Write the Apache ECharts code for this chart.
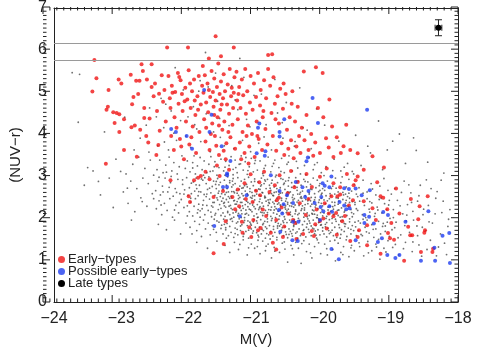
<!DOCTYPE html>
<html><head><meta charset="utf-8">
<script src="https://cdn.jsdelivr.net/npm/echarts@6/dist/echarts.min.js"></script>
<style>html,body{margin:0;padding:0;background:#fff}#c,#t{width:485px;height:356px;position:absolute;left:0;top:0}#t{pointer-events:none}</style>
</head><body><div id="c"></div><div id="t"></div>
<script>
const xTicks = [-24,-23,-22,-21,-20,-19,-18];
const yTicks = [0,1,2,3,4,5,6,7];
const refLines = [6.15, 5.76];
const errPoint = [[-18.29, 6.53, 0.05, 0.19]];
const legendNames = ['Early\u2212types','Possible early\u2212types','Late types'];

const earlyTypes = [
[-23.40,5.76],[-23.37,5.33],[-23.43,5.01],[-23.23,3.29],[-23.19,5.05],[-23.22,4.58],[-23.12,4.52],[-23.07,4.50],[-23.20,4.65],[-23.03,4.47],[-23.04,5.30],[-23.00,5.20],[-23.10,4.26],[-23.03,4.05],[-22.96,4.35],[-22.96,3.62],[-22.84,4.71],[-22.85,4.16],[-22.80,4.20],[-22.86,5.41],[-22.82,4.88],
[-22.78,5.27],[-22.73,5.27],[-22.70,5.66],[-22.68,5.50],[-22.75,4.95],[-22.66,4.62],[-22.72,4.10],[-22.63,3.95],[-22.60,3.80],[-22.77,3.46],[-22.58,4.37],[-22.55,5.12],[-22.52,4.90],[-22.50,5.20],[-22.47,4.55],[-22.45,3.74],[-22.43,4.08],[-22.40,5.40],[-22.38,4.77],[-22.36,5.05],[-22.34,4.30],[-22.55,5.66],[-22.62,5.30],[-22.48,3.50],[-22.66,4.38],[-22.44,4.96],
[-22.32,6.06],[-22.01,6.06],[-21.60,6.33],[-21.33,6.06],[-20.82,5.88],[-20.76,5.90],
[-22.30,5.38],[-22.28,4.85],[-22.27,4.62],[-22.25,5.15],[-22.22,3.62],[-22.21,4.40],[-22.20,5.00],[-22.18,4.15],[-22.16,5.45],[-22.15,4.72],[-22.13,3.88],[-22.12,5.28],[-22.10,4.95],[-22.09,4.55],[-22.07,3.40],[-22.05,5.10],[-22.04,4.30],[-22.02,4.82],[-22.00,5.52],[-21.99,3.75],[-21.97,4.62],[-21.95,5.02],[-21.94,4.18],[-21.92,5.30],[-21.90,4.45],[-21.89,3.55],[-21.87,4.90],[-21.85,5.38],[-21.84,4.05],[-21.82,4.70],[-21.80,5.15],[-22.24,4.98],[-22.14,5.36],[-22.06,4.78],[-21.98,5.20],[-21.91,4.80],[-21.86,4.58],[-22.26,3.95],[-22.11,3.70],[-21.96,3.92],
[-21.79,5.62],[-21.78,4.98],[-21.77,4.35],[-21.76,5.40],[-21.75,3.82],[-21.74,4.75],[-21.72,5.20],[-21.71,4.52],[-21.70,5.05],[-21.69,3.62],[-21.68,4.88],[-21.66,5.50],[-21.65,4.25],[-21.64,5.00],[-21.63,4.65],[-21.62,5.32],[-21.61,3.95],[-21.60,4.80],[-21.58,5.12],[-21.57,4.40],[-21.56,5.68],[-21.55,3.50],[-21.54,4.95],[-21.53,4.58],[-21.52,5.25],[-21.50,4.10],[-21.49,4.85],[-21.48,5.42],[-21.47,4.30],[-21.46,5.02],[-21.44,3.78],[-21.43,4.70],[-21.42,5.18],[-21.40,4.48],[-21.39,5.55],[-21.38,3.92],[-21.37,4.90],[-21.36,5.10],[-21.35,4.22],[-21.34,4.62],[-21.32,5.35],[-21.31,3.65],[-21.74,4.15],[-21.67,4.00],[-21.59,3.72],[-21.51,4.70],[-21.45,3.40],[-21.41,4.05],[-21.33,4.98],[-21.70,5.80],[-21.52,5.85],[-21.62,4.45],[-21.55,4.20],[-21.48,3.60],
[-21.29,5.48],[-21.28,4.80],[-21.27,4.35],[-21.25,5.12],[-21.24,3.80],[-21.23,4.62],[-21.21,5.30],[-21.20,4.05],[-21.19,4.92],[-21.17,3.55],[-21.16,5.55],[-21.15,4.48],[-21.13,5.02],[-21.12,4.20],[-21.10,3.70],[-21.09,4.75],[-21.08,5.38],[-21.06,4.00],[-21.05,4.58],[-21.03,5.20],[-21.02,3.45],[-21.00,4.88],[-20.99,4.30],[-20.97,5.45],[-20.96,3.88],[-20.94,4.68],[-20.93,5.05],[-20.91,3.62],[-20.90,4.40],[-20.88,5.28],[-20.86,4.12],[-20.85,4.85],[-20.83,3.75],[-20.82,5.55],[-21.22,3.40],[-21.11,3.30],[-20.98,3.95],[-21.26,4.95],[-21.14,3.95],[-20.89,4.55],
[-20.79,5.15],[-20.77,4.50],[-20.75,3.95],[-20.74,5.35],[-20.72,4.72],[-20.70,3.60],[-20.68,4.90],[-20.66,4.25],[-20.64,5.08],[-20.62,3.78],[-20.60,4.60],[-20.58,3.50],[-20.56,4.95],[-20.54,4.10],[-20.52,3.65],[-20.50,4.40],[-20.48,3.85],[-20.46,5.02],[-20.44,3.42],[-20.42,4.30],[-20.40,3.70],[-20.38,4.65],[-20.36,3.95],[-20.34,3.55],[-20.32,4.15],[-20.71,4.35],[-20.59,5.20],[-20.47,4.72],
[-20.29,5.49],[-20.11,5.59],[-20.01,5.45],[-19.91,4.82],[-19.87,4.18],[-19.66,4.22],[-20.00,4.40],[-19.27,3.47],[-19.49,3.54],[-19.70,3.71],[-20.28,3.85],[-20.25,4.45],[-20.22,3.62],[-20.18,4.00],[-20.15,3.48],[-20.12,3.80],[-20.08,4.62],[-20.05,3.55],[-19.96,3.90],[-19.92,3.68],[-19.85,3.45],[-19.80,3.92],[-19.74,3.55],[-19.60,3.62],
[-21.63,1.16],[-21.48,1.38],[-21.20,1.65],[-21.07,1.55],[-21.10,1.78],[-22.00,2.52],[-21.98,2.38],[-22.27,2.90],[-21.92,2.90],[-21.86,2.96],[-21.82,3.00],[-21.69,2.92],[-21.54,3.00],[-21.49,2.64],[-21.63,2.50],[-21.31,2.21],[-21.25,2.28],[-21.17,2.83],[-21.27,2.68],[-21.05,2.38],[-21.21,1.91],[-21.04,1.95],[-21.75,3.10],[-21.40,3.15],[-21.58,3.25],[-21.08,3.04],[-20.94,2.54],[-20.65,3.02],[-20.53,2.59],[-20.43,2.73],[-20.38,2.86],[-20.17,2.74],[-20.05,2.98],[-19.85,2.83],[-19.75,2.73],[-19.55,2.78],[-19.52,2.90],[-19.49,2.99],[-19.56,2.42],[-19.88,2.52],[-19.79,2.52],[-19.75,2.56],[-19.92,2.11],[-19.85,2.04],
[-20.97,1.71],[-20.93,1.76],[-20.75,1.41],[-20.70,1.95],[-20.69,2.42],[-20.66,2.48],[-20.45,1.95],[-20.42,1.88],[-20.14,1.57],[-20.17,1.69],[-20.26,2.07],[-20.05,1.93],[-20.00,1.99],[-19.81,2.12],[-19.68,2.05],[-19.49,1.55],[-19.47,1.71],[-19.35,1.83],[-19.27,2.23],[-19.05,2.21],[-18.99,1.88],[-18.87,2.11],[-18.74,1.79],[-18.68,1.59],[-18.57,2.28],[-18.59,1.97],[-18.55,1.19],[-18.38,1.19],[-18.37,1.27],[-18.80,0.98],[-19.04,1.64],[-19.01,1.52],[-18.49,1.71],[-18.71,1.59],
[-20.90,2.20],[-20.85,2.05],[-20.80,2.62],[-20.62,2.25],[-20.58,1.80],[-20.52,2.10],[-20.35,2.35],[-20.30,1.62],[-20.22,2.45],[-20.10,2.20],[-20.12,1.85],[-19.98,2.35],[-19.95,1.75],[-19.72,1.92],[-19.62,2.30],[-19.40,2.40],[-19.22,1.95],[-19.15,2.52],[-20.95,2.85],[-20.88,3.10],[-20.72,2.78],[-20.48,3.12],[-20.25,3.05],[-19.95,3.18],[-19.65,3.05],[-21.15,2.45],[-21.00,2.65],[-20.78,1.65],[-20.60,1.55],[-20.40,1.50],[-19.80,1.60],[-19.60,1.45],[-19.35,1.35],[-21.35,2.50],[-21.45,1.92],[-20.70,1.25],[-19.15,1.15],[-18.95,1.48],[-18.50,1.65],[-18.45,2.52],[-18.70,2.45],[-18.92,2.70],[-19.20,2.85],[-19.40,3.15],[-19.10,3.20],[-19.11,2.48]
];

const possibleEarly = [
[-21.77,5.05],[-21.66,4.46],[-21.69,4.05],[-22.26,4.12],[-22.19,4.05],[-22.03,3.95],[-21.95,3.65],[-21.51,3.71],[-21.38,3.36],[-21.43,3.06],[-20.16,4.86],[-19.35,4.58],[-20.08,4.26],[-20.58,4.35],[-20.95,4.25],[-20.97,4.15],[-20.86,3.59],[-20.87,3.48],[-20.65,3.94],[-20.65,4.05],[-20.23,3.44],[-20.25,3.35],[-20.99,3.54],[-20.78,3.02],[-20.41,2.86],[-20.31,2.73],[-20.01,2.83],[-19.98,2.77],[-19.88,2.99],[-19.91,2.73],[-19.52,2.70],[-19.43,2.54],[-19.31,2.66],[-20.03,2.50],[-20.65,2.64],[-20.54,2.54],[-20.27,2.50],[-20.22,2.64],[-20.13,2.36],[-20.59,2.33],[-20.45,2.36],[-20.37,1.91],[-20.45,1.91],[-20.66,2.19],[-20.61,2.11],[-20.04,2.26],[-20.00,2.16],[-19.91,2.28],[-19.87,2.15],[-19.69,2.30],[-19.66,2.21],[-19.61,2.23],[-19.69,2.71],[-19.62,2.69],[-19.39,1.88],[-19.32,2.03],[-19.25,1.87],[-19.39,2.07],[-19.52,1.47],[-19.19,1.43],[-19.13,1.52],[-19.11,2.14],[-19.04,2.07],[-18.78,1.91],[-18.44,2.16],[-18.23,1.58],[-18.13,1.64],[-18.35,1.29],[-18.34,0.98],[-18.12,0.93],[-18.55,0.98],[-18.93,1.05],[-18.87,1.12],[-19.05,1.12],[-19.77,1.02],[-19.88,1.26],[-20.46,1.47],[-20.38,1.45],[-20.64,1.67],[-20.05,1.95],[-19.76,2.38],[-21.62,1.81],[-21.43,3.02],[-21.49,2.74],[-21.43,2.74],[-21.24,2.04],[-21.14,2.54]
];

const lateTypes = [
[-23.55,2.78],[-23.42,3.12],[-23.31,2.55],[-23.18,2.95],[-23.08,3.40],[-23.62,5.42],[-23.25,4.05],[-23.12,2.25],[-23.73,5.46],[-23.64,4.28],[-23.50,3.20],
[-22.97,2.62],[-22.93,3.05],[-22.90,2.35],[-22.86,2.88],[-22.83,3.28],[-22.80,2.15],[-22.77,2.70],[-22.74,3.45],[-22.71,2.48],[-22.68,2.95],[-22.65,3.18],[-22.62,2.28],[-22.60,2.82],[-22.57,3.38],[-22.54,2.58],[-22.52,3.02],[-22.95,4.40],[-22.72,3.90],[-22.58,4.62],[-22.85,1.95],
[-22.45,1.85],[-22.33,1.72],[-22.21,1.95],[-22.12,1.62],[-22.04,1.88],
[-22.48,2.22],[-22.44,2.41],[-22.40,2.08],[-22.36,2.35],[-22.32,2.18],[-22.28,2.46],[-22.24,2.02],[-22.19,2.30],[-22.15,2.12],[-22.11,2.44],[-22.07,2.25],[-22.02,2.05],
[-22.49,2.65],[-22.46,2.88],[-22.42,2.55],[-22.39,2.76],[-22.35,2.95],[-22.31,2.62],[-22.27,2.84],[-22.23,2.52],[-22.20,2.70],[-22.16,2.92],[-22.13,2.58],[-22.09,2.80],[-22.06,2.67],[-22.03,2.96],[-22.01,2.54],
[-22.47,3.15],[-22.43,3.38],[-22.38,3.08],[-22.34,3.26],[-22.29,3.45],[-22.25,3.12],[-22.22,3.32],[-22.17,3.05],[-22.14,3.22],[-22.10,3.48],[-22.05,3.18],[-22.02,3.36],
[-22.46,3.72],[-22.37,4.15],[-22.30,3.62],[-22.26,4.55],[-22.18,3.85],[-22.12,4.32],[-22.08,5.05],[-22.04,3.95],[-22.41,4.85],[-22.20,5.58],
[-21.88,1.42],[-21.72,1.28],[-21.58,1.45],
[-21.98,1.78],[-21.95,1.62],[-21.91,1.92],[-21.88,1.70],[-21.84,1.85],[-21.81,1.56],[-21.78,1.95],[-21.75,1.74],[-21.71,1.88],[-21.68,1.60],[-21.65,1.82],[-21.62,1.97],[-21.59,1.66],[-21.55,1.90],[-21.52,1.75],
[-21.99,2.15],[-21.97,2.38],[-21.94,2.05],[-21.92,2.28],[-21.90,2.46],[-21.87,2.12],[-21.85,2.33],[-21.83,2.02],[-21.80,2.22],[-21.78,2.42],[-21.76,2.08],[-21.73,2.30],[-21.71,2.18],[-21.69,2.45],[-21.66,2.03],[-21.64,2.26],[-21.62,2.37],[-21.60,2.11],[-21.58,2.48],[-21.56,2.20],[-21.54,2.32],[-21.52,2.06],[-21.51,2.40],[-21.86,2.20],[-21.67,2.14],
[-21.99,2.72],[-21.96,2.58],[-21.93,2.86],[-21.91,2.64],[-21.89,2.95],[-21.86,2.53],[-21.84,2.78],[-21.82,2.62],[-21.79,2.90],[-21.77,2.56],[-21.74,2.82],[-21.72,2.68],[-21.70,2.98],[-21.67,2.60],[-21.65,2.75],[-21.63,2.88],[-21.61,2.54],[-21.59,2.70],[-21.57,2.94],[-21.55,2.64],[-21.53,2.85],[-21.51,2.58],[-21.88,2.70],[-21.76,2.96],[-21.60,2.80],
[-21.98,3.10],[-21.94,3.32],[-21.90,3.05],[-21.87,3.24],[-21.83,3.44],[-21.80,3.15],[-21.77,3.36],[-21.73,3.08],[-21.70,3.28],[-21.67,3.46],[-21.64,3.12],[-21.61,3.34],[-21.58,3.02],[-21.55,3.20],[-21.52,3.40],[-21.92,3.48],[-21.78,3.02],[-21.62,3.22],
[-21.97,3.68],[-21.88,4.12],[-21.82,3.82],[-21.74,4.48],[-21.68,3.58],[-21.63,4.05],[-21.57,4.78],[-21.53,3.92],[-21.93,4.65],[-21.71,5.12],[-21.60,5.45],[-21.85,5.02],[-21.75,5.94],[-21.24,5.80],
[-21.46,1.35],[-21.39,1.18],[-21.32,1.42],[-21.26,1.25],[-21.19,1.48],[-21.13,1.12],[-21.07,1.38],[-21.02,1.28],
[-21.49,1.62],[-21.47,1.85],[-21.45,1.72],[-21.43,1.95],[-21.41,1.58],[-21.39,1.80],[-21.37,1.66],[-21.35,1.92],[-21.33,1.54],[-21.31,1.76],[-21.29,1.88],[-21.27,1.60],[-21.25,1.98],[-21.23,1.70],[-21.21,1.84],[-21.19,1.56],[-21.17,1.94],[-21.15,1.68],[-21.13,1.82],[-21.11,1.52],[-21.09,1.90],[-21.07,1.74],[-21.05,1.64],[-21.03,1.96],[-21.01,1.78],[-21.44,1.52],[-21.36,1.99],[-21.28,1.73],[-21.18,1.62],[-21.08,1.86],
[-21.49,2.12],[-21.48,2.35],[-21.46,2.04],[-21.45,2.26],[-21.44,2.44],[-21.42,2.16],[-21.41,2.38],[-21.39,2.08],[-21.38,2.30],[-21.36,2.48],[-21.35,2.20],[-21.33,2.02],[-21.32,2.42],[-21.30,2.14],[-21.29,2.33],[-21.27,2.06],[-21.26,2.46],[-21.24,2.24],[-21.23,2.37],[-21.21,2.10],[-21.20,2.29],[-21.18,2.45],[-21.17,2.01],[-21.15,2.19],[-21.14,2.40],[-21.12,2.27],[-21.11,2.07],[-21.09,2.34],[-21.08,2.49],[-21.06,2.15],[-21.05,2.31],[-21.03,2.05],[-21.02,2.43],[-21.01,2.22],[-21.40,2.28],[-21.34,2.12],[-21.22,2.18],[-21.16,2.32],[-21.10,2.21],[-21.04,2.38],
[-21.49,2.68],[-21.47,2.90],[-21.46,2.56],[-21.44,2.78],[-21.42,2.98],[-21.41,2.62],[-21.39,2.84],[-21.37,2.52],[-21.36,2.74],[-21.34,2.94],[-21.32,2.60],[-21.31,2.82],[-21.29,2.66],[-21.27,2.96],[-21.26,2.54],[-21.24,2.76],[-21.22,2.88],[-21.21,2.58],[-21.19,2.72],[-21.17,2.92],[-21.16,2.64],[-21.14,2.80],[-21.12,2.55],[-21.11,2.97],[-21.09,2.70],[-21.07,2.86],[-21.06,2.61],[-21.04,2.77],[-21.02,2.93],[-21.01,2.66],[-21.43,2.70],[-21.35,2.88],[-21.25,2.68],[-21.13,2.74],[-21.05,2.53],
[-21.48,3.12],[-21.45,3.35],[-21.42,3.05],[-21.40,3.25],[-21.37,3.46],[-21.34,3.16],[-21.31,3.38],[-21.28,3.08],[-21.25,3.28],[-21.22,3.48],[-21.19,3.14],[-21.16,3.34],[-21.13,3.04],[-21.10,3.22],[-21.07,3.42],[-21.04,3.10],[-21.02,3.30],[-21.46,3.02],[-21.30,3.20],[-21.15,3.44],
[-21.47,3.72],[-21.40,4.20],[-21.33,3.65],[-21.27,4.58],[-21.20,3.85],[-21.14,4.35],[-21.08,3.58],[-21.03,4.92],[-21.36,5.15],[-21.18,5.35],
[-20.98,1.32],[-20.94,1.15],[-20.90,1.45],[-20.86,1.22],[-20.82,1.38],[-20.77,1.05],[-20.73,1.30],[-20.69,1.48],[-20.65,1.18],[-20.61,1.40],[-20.57,1.26],[-20.53,0.95],
[-20.99,1.65],[-20.98,1.88],[-20.96,1.55],[-20.95,1.78],[-20.93,1.96],[-20.92,1.62],[-20.90,1.84],[-20.89,1.70],[-20.87,1.92],[-20.86,1.52],[-20.84,1.75],[-20.83,1.98],[-20.81,1.60],[-20.80,1.82],[-20.78,1.68],[-20.77,1.94],[-20.75,1.57],[-20.74,1.80],[-20.72,1.66],[-20.71,1.90],[-20.69,1.54],[-20.68,1.76],[-20.66,1.97],[-20.65,1.63],[-20.63,1.85],[-20.62,1.71],[-20.60,1.93],[-20.59,1.58],[-20.57,1.79],[-20.56,1.67],[-20.54,1.89],[-20.53,1.53],[-20.51,1.74],[-20.50,1.95],[-20.91,1.73],[-20.79,1.50],[-20.67,1.87],[-20.55,1.61],
[-20.99,2.10],[-20.98,2.32],[-20.97,2.02],[-20.95,2.24],[-20.94,2.45],[-20.93,2.14],[-20.91,2.36],[-20.90,2.06],[-20.89,2.28],[-20.87,2.48],[-20.86,2.18],[-20.85,2.40],[-20.83,2.08],[-20.82,2.30],[-20.81,2.20],[-20.79,2.44],[-20.78,2.04],[-20.77,2.26],[-20.75,2.38],[-20.74,2.12],[-20.73,2.34],[-20.71,2.01],[-20.70,2.22],[-20.69,2.47],[-20.67,2.16],[-20.66,2.36],[-20.65,2.05],[-20.63,2.28],[-20.62,2.42],[-20.61,2.13],[-20.59,2.32],[-20.58,2.03],[-20.57,2.25],[-20.55,2.46],[-20.54,2.17],[-20.53,2.37],[-20.51,2.09],[-20.50,2.29],[-20.96,2.20],[-20.88,2.12],[-20.80,2.35],[-20.72,2.27],[-20.64,2.19],[-20.56,2.40],[-20.52,2.21],
[-20.99,2.64],[-20.97,2.86],[-20.95,2.55],[-20.93,2.76],[-20.92,2.95],[-20.90,2.60],[-20.88,2.82],[-20.87,2.52],[-20.85,2.70],[-20.83,2.92],[-20.81,2.58],[-20.80,2.78],[-20.78,2.66],[-20.76,2.90],[-20.75,2.54],[-20.73,2.74],[-20.71,2.98],[-20.70,2.62],[-20.68,2.84],[-20.66,2.56],[-20.64,2.72],[-20.63,2.94],[-20.61,2.60],[-20.59,2.80],[-20.57,2.68],[-20.56,2.88],[-20.54,2.53],[-20.52,2.76],[-20.51,2.96],[-20.94,2.68],[-20.86,2.88],[-20.77,2.58],[-20.69,2.70],[-20.60,2.92],[-20.53,2.62],
[-20.98,3.14],[-20.94,3.36],[-20.90,3.06],[-20.86,3.25],[-20.82,3.45],[-20.78,3.10],[-20.74,3.30],[-20.70,3.02],[-20.66,3.20],[-20.62,3.42],[-20.58,3.08],[-20.54,3.28],[-20.51,3.48],[-20.88,3.18],[-20.72,3.38],
[-20.96,3.78],[-20.85,4.22],[-20.77,3.62],[-20.68,4.50],[-20.60,3.90],[-20.55,4.75],[-20.92,4.95],[-20.72,5.30],
[-20.48,1.35],[-20.44,1.12],[-20.41,1.42],[-20.37,1.28],[-20.33,0.92],[-20.29,1.46],[-20.25,1.20],[-20.21,1.38],[-20.17,1.05],[-20.13,1.32],[-20.09,1.48],[-20.04,1.15],
[-20.49,1.68],[-20.48,1.90],[-20.46,1.57],[-20.44,1.80],[-20.43,1.96],[-20.41,1.64],[-20.40,1.86],[-20.38,1.52],[-20.36,1.74],[-20.35,1.94],[-20.33,1.62],[-20.31,1.84],[-20.30,1.70],[-20.28,1.92],[-20.26,1.55],[-20.25,1.78],[-20.23,1.98],[-20.21,1.66],[-20.20,1.88],[-20.18,1.58],[-20.16,1.76],[-20.15,1.95],[-20.13,1.63],[-20.11,1.82],[-20.10,1.52],[-20.08,1.72],[-20.06,1.90],[-20.05,1.60],[-20.03,1.84],[-20.01,1.69],[-20.45,1.72],[-20.34,1.58],[-20.24,1.86],[-20.14,1.74],[-20.07,1.98],
[-20.49,2.14],[-20.48,2.36],[-20.46,2.04],[-20.44,2.26],[-20.43,2.46],[-20.41,2.16],[-20.39,2.38],[-20.38,2.08],[-20.36,2.30],[-20.34,2.48],[-20.33,2.18],[-20.31,2.40],[-20.29,2.02],[-20.28,2.24],[-20.26,2.44],[-20.24,2.12],[-20.23,2.34],[-20.21,2.06],[-20.19,2.28],[-20.18,2.49],[-20.16,2.19],[-20.14,2.39],[-20.13,2.09],[-20.11,2.31],[-20.09,2.01],[-20.08,2.22],[-20.06,2.43],[-20.04,2.13],[-20.03,2.35],[-20.01,2.05],[-20.47,2.28],[-20.42,2.10],[-20.37,2.42],[-20.32,2.22],[-20.27,2.32],[-20.22,2.45],[-20.17,2.11],[-20.12,2.26],[-20.07,2.37],[-20.02,2.20],
[-20.49,2.62],[-20.47,2.84],[-20.45,2.55],[-20.43,2.76],[-20.41,2.96],[-20.39,2.66],[-20.37,2.88],[-20.35,2.57],[-20.33,2.78],[-20.31,2.64],[-20.29,2.92],[-20.27,2.53],[-20.25,2.74],[-20.23,2.86],[-20.21,2.60],[-20.19,2.80],[-20.17,2.68],[-20.15,2.95],[-20.13,2.58],[-20.11,2.72],[-20.09,2.90],[-20.07,2.63],[-20.05,2.82],[-20.03,2.56],[-20.01,2.70],
[-20.46,3.12],[-20.40,3.35],[-20.34,3.05],[-20.28,3.25],[-20.21,3.44],[-20.15,3.15],[-20.09,3.32],[-20.03,3.08],
[-20.42,3.82],[-20.30,4.15],[-20.18,3.65],[-20.10,4.60],[-20.35,5.10],
[-19.98,1.38],[-19.94,1.12],[-19.90,1.45],[-19.86,1.25],[-19.82,0.98],[-19.78,1.40],[-19.74,1.18],[-19.70,1.32],[-19.66,1.48],[-19.62,1.08],[-19.58,1.35],[-19.54,1.22],
[-19.99,1.62],[-19.97,1.85],[-19.95,1.55],[-19.93,1.76],[-19.91,1.96],[-19.89,1.66],[-19.87,1.88],[-19.85,1.58],[-19.83,1.78],[-19.81,1.92],[-19.79,1.64],[-19.77,1.84],[-19.75,1.52],[-19.73,1.72],[-19.71,1.94],[-19.69,1.68],[-19.67,1.86],[-19.65,1.56],[-19.63,1.76],[-19.61,1.98],[-19.59,1.62],[-19.57,1.82],[-19.55,1.70],[-19.53,1.90],[-19.51,1.58],[-19.92,1.70],[-19.80,1.54],[-19.68,1.80],
[-19.99,2.12],[-19.97,2.34],[-19.95,2.04],[-19.93,2.26],[-19.91,2.46],[-19.89,2.16],[-19.87,2.38],[-19.85,2.08],[-19.83,2.30],[-19.81,2.48],[-19.79,2.18],[-19.77,2.40],[-19.75,2.02],[-19.73,2.24],[-19.71,2.44],[-19.69,2.14],[-19.67,2.36],[-19.65,2.06],[-19.63,2.28],[-19.61,2.47],[-19.59,2.20],[-19.57,2.39],[-19.55,2.10],[-19.53,2.32],[-19.51,2.22],[-19.90,2.28],[-19.78,2.06],[-19.66,2.42],
[-19.98,2.66],[-19.94,2.88],[-19.90,2.58],[-19.86,2.76],[-19.82,2.95],[-19.78,2.62],[-19.74,2.84],[-19.70,2.55],[-19.66,2.74],[-19.62,2.92],[-19.58,2.64],[-19.54,2.80],[-19.51,2.57],[-19.88,2.70],[-19.72,2.98],
[-19.96,3.22],[-19.84,3.40],[-19.74,3.12],[-19.64,3.30],[-19.55,3.05],
[-19.46,1.32],[-19.40,1.10],[-19.34,1.44],[-19.28,1.22],[-19.22,1.38],[-19.16,1.02],[-19.10,1.28],[-19.04,1.46],
[-19.48,1.70],[-19.45,1.88],[-19.42,1.58],[-19.38,1.78],[-19.35,1.95],[-19.32,1.64],[-19.28,1.84],[-19.25,1.54],[-19.22,1.74],[-19.18,1.92],[-19.15,1.62],[-19.12,1.80],[-19.08,1.68],[-19.05,1.90],[-19.02,1.56],
[-19.49,2.18],[-19.46,2.40],[-19.42,2.08],[-19.39,2.30],[-19.35,2.46],[-19.31,2.14],[-19.28,2.36],[-19.24,2.04],[-19.20,2.26],[-19.17,2.44],[-19.13,2.12],[-19.09,2.34],[-19.06,2.20],[-19.02,2.42],
[-19.47,2.72],[-19.41,2.90],[-19.35,2.62],[-19.29,2.82],[-19.22,2.55],[-19.16,2.76],[-19.10,2.94],[-19.04,2.66],
[-19.44,3.25],[-19.30,3.55],[-19.12,3.15],
[-18.97,1.30],[-18.88,1.12],[-18.78,1.42],[-18.68,1.20],[-18.58,1.36],
[-18.98,1.72],[-18.92,1.90],[-18.85,1.60],[-18.79,1.82],[-18.72,1.66],[-18.66,1.95],[-18.60,1.58],[-18.53,1.78],
[-18.96,2.20],[-18.90,2.42],[-18.82,2.10],[-18.75,2.32],[-18.67,2.16],[-18.60,2.40],[-18.52,2.08],
[-18.94,2.70],[-18.80,2.88],[-18.70,2.60],[-18.56,2.78],[-18.87,4.00],[-18.66,3.91],[-19.05,3.62],[-18.78,3.30],
[-18.46,1.25],[-18.32,1.10],[-18.20,1.40],[-18.48,1.70],[-18.38,1.88],[-18.26,1.62],[-18.15,1.80],
[-18.44,2.30],[-18.34,2.10],[-18.22,2.40],[-18.12,2.20],[-18.40,2.70],[-18.25,2.90],
[-21.57,2.43],[-21.21,2.71],[-20.84,1.63],[-20.38,2.57],[-19.93,2.19],[-21.02,2.87],[-20.61,1.77],[-20.17,2.33],[-19.74,1.61],[-21.38,1.97],
[-20.93,2.52],[-20.49,2.08],[-20.05,2.66],[-19.61,1.91],[-21.44,2.61],[-21.07,1.83],[-20.71,2.41],[-20.29,1.72],[-19.86,2.27],[-21.29,2.17],
[-21.66,2.29],[-21.13,2.58],[-20.76,1.99],[-20.33,2.51],[-19.97,1.79],[-21.51,1.83],[-21.19,2.23],[-20.87,2.91],[-20.44,1.83],[-20.12,2.49],
[-19.78,2.33],[-21.73,2.57],[-21.34,2.79],[-20.98,2.01],[-20.66,2.63],[-20.21,1.93],[-19.89,2.53],[-19.57,2.03],[-21.47,2.29],[-21.11,1.71],
[-20.81,2.37],[-20.47,2.73],[-20.09,2.07],[-19.71,2.61],[-21.61,2.07],[-21.24,2.49],[-20.89,1.87],[-20.56,2.21],[-20.19,2.69],[-19.82,1.97],
[-21.36,2.63],[-21.03,2.27],[-20.68,1.81],[-20.36,2.11],[-19.99,2.43],[-21.53,2.51],[-21.16,2.09],[-20.79,2.71],[-20.42,2.31],[-20.07,1.89],
[-19.68,2.17],[-21.42,2.13],[-21.09,2.63],[-20.73,2.19],[-20.39,1.67],[-20.02,2.59],[-19.64,2.51],[-21.27,1.91],[-20.95,2.39],[-20.58,2.83],
[-20.24,2.03],[-19.91,1.63],[-21.69,2.71],[-21.31,2.33],[-20.97,1.59],[-20.62,2.47],[-20.27,2.87],[-19.94,2.41],[-19.59,1.73],[-21.49,2.47],
[-21.17,2.77],[-20.83,2.13],[-20.51,1.61],[-20.14,2.17],[-19.81,2.71],[-21.58,1.93],[-21.22,2.01],[-20.91,2.61],[-20.53,2.33],[-20.18,1.81],
[-19.84,2.09],[-21.39,2.89],[-21.06,2.47],[-20.74,1.73],[-20.41,2.19],[-20.06,2.77],[-19.72,2.03],[-21.64,2.37],[-21.28,2.59],[-20.94,2.27],
[-20.57,1.97],[-20.23,2.41],[-19.87,1.71],[-19.53,2.37],[-21.45,1.77],[-21.12,2.37],[-20.77,2.83],[-20.45,2.43],[-20.11,1.59],[-19.77,2.19],
[-21.33,2.41],[-20.99,1.93],[-20.64,2.59],[-20.31,2.29],[-19.96,1.99],[-19.62,2.59],[-21.55,2.79],[-21.18,1.89],[-20.86,2.49],[-20.52,2.89],
[-20.16,2.09],[-19.83,2.57],[-21.41,2.51],[-21.04,1.69],[-20.69,2.09],[-20.34,2.61],[-20.01,1.77],[-19.66,2.29],[-21.26,2.11],[-20.92,2.79],
[-22.38,2.62],[-22.21,2.19],[-22.09,2.91],[-21.97,2.47],[-21.85,2.63],[-21.79,2.31],[-22.44,2.97],[-22.29,2.73],[-22.14,2.37],[-21.96,2.83],
[-21.83,2.17],[-22.33,3.09],[-22.18,2.61],[-22.02,2.29],[-21.89,2.79],[-21.74,2.51],[-22.52,2.46],[-22.41,2.31],[-22.26,2.99],[-22.07,2.57],
[-21.94,3.19],[-21.81,2.93],[-21.68,3.11],[-21.59,2.87],[-21.46,3.21],[-21.34,3.03],[-21.23,3.29],[-21.12,3.13],[-21.01,3.37],[-20.89,3.01],
[-20.76,3.23],[-20.63,3.11],[-20.52,3.33],[-20.38,3.19],[-20.26,3.03],[-20.13,3.27],[-19.99,3.01],[-19.86,3.13],[-19.69,3.21],[-19.57,3.11],
[-21.24,1.37],[-21.11,1.29],[-20.97,1.47],[-20.85,1.33],[-20.72,1.21],[-20.58,1.43],[-20.46,1.27],[-20.32,1.39],[-20.19,1.17],[-20.07,1.41],
[-19.95,1.27],[-19.83,1.47],[-19.71,1.13],[-19.59,1.29],[-19.47,1.41],[-19.33,1.17],[-19.21,1.31],[-19.07,1.19],[-18.93,1.37],[-18.81,1.27],
[-18.67,1.43],[-18.54,1.09],[-18.41,1.47],[-18.29,1.31],[-18.17,1.13],
[-19.44,1.61],[-19.37,2.01],[-19.26,1.73],[-19.19,2.19],[-19.11,1.87],[-19.03,2.31],[-18.94,1.77],[-18.86,2.29],[-18.77,1.93],[-18.69,2.37],
[-18.61,1.81],[-18.51,2.21],[-18.43,1.91],[-18.33,2.47],[-18.24,2.13],[-18.14,1.97],[-19.41,2.59],[-19.27,2.69],[-19.14,2.47],[-18.99,2.57],
[-18.84,2.61],[-18.73,2.79],[-18.58,2.53],[-18.47,2.91],[-18.31,2.63],
[-19.48,1.93],[-19.36,1.67],[-19.23,2.11],[-19.08,1.81],[-18.96,2.01],[-19.31,2.39],[-19.18,1.49],[-19.01,1.99],[-18.89,1.53],[-18.76,2.07],
[-22.63,4.21],[-22.34,4.71],[-22.01,4.41],[-21.83,5.27],[-21.54,4.37],[-21.31,4.81],[-21.09,4.17],[-20.88,3.93],[-20.61,4.27],[-20.43,3.71],
[-20.24,4.09],[-19.98,4.21],[-19.77,3.83],[-19.52,3.97],[-19.34,3.71],[-19.18,4.31],[-18.97,3.83],[-18.62,3.61],[-18.45,3.33],[-18.21,3.07],
[-22.81,3.62],[-23.01,3.11],[-23.34,2.87],[-22.91,2.71],[-22.69,2.39],[-22.59,3.57],[-22.36,3.81],[-22.22,4.02],[-22.48,4.41],[-21.91,4.22],
[-21.47,2.37],[-21.37,2.23],[-21.28,2.39],[-21.19,2.53],[-21.08,2.19],[-20.99,2.57],[-20.91,2.13],[-20.82,2.43],[-20.73,2.61],[-20.64,2.31],
[-20.55,2.13],[-20.46,2.49],[-20.37,1.99],[-20.28,2.19],[-20.19,2.41],[-20.10,2.01],[-20.01,2.29],[-19.92,2.11],[-19.83,2.37],[-19.74,1.93],
[-21.52,2.23],[-21.43,1.87],[-21.33,2.63],[-21.23,1.81],[-21.14,2.11],[-21.04,1.91],[-20.96,2.69],[-20.86,1.79],[-20.78,2.19],[-20.68,2.33],
[-20.59,1.89],[-20.51,2.61],[-20.41,1.91],[-20.32,2.47],[-20.22,1.73],[-20.13,2.43],[-20.04,1.83],[-19.96,2.53],[-19.87,1.99],[-19.78,2.47],
[-19.69,1.87],[-19.61,2.37],[-19.52,1.79],[-21.63,1.73],[-21.56,2.59],[-21.48,1.97],[-21.39,2.47],[-21.31,1.63],[-21.21,2.37],[-21.12,1.93],
[-21.02,2.53],[-20.92,2.23],[-20.83,1.91],[-20.74,2.53],[-20.65,1.81],[-20.56,2.29],[-20.47,1.63],[-20.39,2.73],[-20.29,2.11],[-20.21,2.57],
[-20.12,1.69],[-20.03,2.47],[-19.95,1.89],[-19.85,2.21],[-19.76,1.77],[-19.67,2.57],[-19.58,2.13],[-19.49,2.51],[-19.41,1.97],[-19.32,2.21]
];

const FONT = 'Liberation Sans';
const INK = '#222';
const GRID = {left: 43, right: 27, top: 7, bottom: 54};
const minus = v => (v < 0 ? '\u2212' : '') + Math.abs(v);
const xMin = xTicks[0], xMax = xTicks[xTicks.length - 1];
const yMin = yTicks[0], yMax = yTicks[yTicks.length - 1];

function axisBase() {
  return {
    type: 'value', interval: 1,
    axisLine: {show: true, onZero: false, lineStyle: {color: INK, width: 1}},
    axisTick: {show: false}, minorTick: {show: false},
    splitLine: {show: false}, minorSplitLine: {show: false}
  };
}

// main chart: data, labels, legend, reference lines, error-bar point
const chart = echarts.init(document.getElementById('c'));
chart.setOption({
  animation: false,
  backgroundColor: '#fff',
  grid: GRID,
  legend: {
    orient: 'vertical', left: 53, top: 248, itemWidth: 7, itemHeight: 7, itemGap: -1,
    data: [
      {name: legendNames[0], icon: 'circle', itemStyle: {color: '#f01515'}},
      {name: legendNames[1], icon: 'circle', itemStyle: {color: '#1f3df0'}},
      {name: legendNames[2], icon: 'circle', itemStyle: {color: '#000', opacity: 1}}
    ],
    textStyle: {fontFamily: FONT, fontSize: 13, color: INK, lineHeight: 12, padding: [0,0,0,-2]}
  },
  xAxis: [
    Object.assign(axisBase(), {min: xMin, max: xMax, position: 'bottom',
      name: 'M(V)', nameLocation: 'middle', nameGap: 28,
      nameTextStyle: {fontFamily: FONT, fontSize: 15, color: INK},
      axisLabel: {formatter: minus, fontFamily: FONT, fontSize: 16, color: INK, margin: 9}}),
    Object.assign(axisBase(), {min: xMin, max: xMax, position: 'top', axisLabel: {show: false}})
  ],
  yAxis: [
    Object.assign(axisBase(), {min: yMin, max: yMax, position: 'left',
      name: '(NUV\u2212r)', nameLocation: 'middle', nameGap: 31, nameRotate: 90,
      nameTextStyle: {fontFamily: FONT, fontSize: 15, color: INK},
      axisLabel: {fontFamily: FONT, fontSize: 16, color: INK, margin: 7}}),
    Object.assign(axisBase(), {min: yMin, max: yMax, position: 'right', axisLabel: {show: false}})
  ],
  series: [
    {name: legendNames[2], type: 'scatter', data: lateTypes, symbolSize: 1.8, itemStyle: {color: '#333', opacity: 0.7}, z: 2,
      markLine: {silent: true, symbol: 'none', label: {show: false}, lineStyle: {color: '#9a9a9a', width: 1, type: 'solid'},
        data: refLines.map(v => ({yAxis: v}))}},
    {name: legendNames[0], type: 'scatter', data: earlyTypes, symbolSize: 4, itemStyle: {color: '#f01515'}, z: 3},
    {name: legendNames[1], type: 'scatter', data: possibleEarly, symbolSize: 4, itemStyle: {color: '#1f3df0'}, z: 4},
    {type: 'custom', data: errPoint, z: 5, silent: true, renderItem: function(params, api) {
      const x = api.value(0), y = api.value(1), dx = api.value(2), dy = api.value(3);
      const c = api.coord([x, y]);
      const top = api.coord([x, y + dy]), bot = api.coord([x, y - dy]);
      const lft = api.coord([x - dx, y]), rgt = api.coord([x + dx, y]);
      const st = {stroke: INK, lineWidth: 1};
      return {type: 'group', children: [
        {type: 'line', shape: {x1: top[0], y1: top[1], x2: bot[0], y2: bot[1]}, style: st},
        {type: 'line', shape: {x1: top[0]-3.5, y1: top[1], x2: top[0]+3.5, y2: top[1]}, style: st},
        {type: 'line', shape: {x1: bot[0]-3.5, y1: bot[1], x2: bot[0]+3.5, y2: bot[1]}, style: st},
        {type: 'line', shape: {x1: lft[0], y1: lft[1], x2: rgt[0], y2: rgt[1]}, style: st},
        {type: 'line', shape: {x1: lft[0], y1: lft[1]-3, x2: lft[0], y2: lft[1]+3}, style: st},
        {type: 'line', shape: {x1: rgt[0], y1: rgt[1]-3, x2: rgt[0], y2: rgt[1]+3}, style: st},
        {type: 'circle', shape: {cx: c[0], cy: c[1], r: 3}, style: {fill: '#000'}}
      ]};
    }}
  ]
});

// overlay chart (transparent, same grid and scales): inward major and minor tick marks on all four sides
const tickMarks = [];
for (let i = 0; i <= (xMax - xMin) * 10; i++) tickMarks.push([xMin + i / 10, 0, i % 10 === 0 ? 1 : 0]);
for (let i = 0; i <= (yMax - yMin) * 10; i++) tickMarks.push([yMin + i / 10, 1, i % 10 === 0 ? 1 : 0]);
const ticksChart = echarts.init(document.getElementById('t'));
ticksChart.setOption({
  animation: false,
  grid: GRID,
  xAxis: {type: 'value', min: xMin, max: xMax, interval: 1, axisLine: {show: false}, axisTick: {show: false}, axisLabel: {show: false}, splitLine: {show: false}},
  yAxis: {type: 'value', min: yMin, max: yMax, interval: 1, axisLine: {show: false}, axisTick: {show: false}, axisLabel: {show: false}, splitLine: {show: false}},
  series: [{type: 'custom', data: tickMarks, silent: true, clip: false, renderItem: function(p, api) {
    const v = api.value(0), ax = api.value(1), L = api.value(2) ? 7 : 3.5;
    const st = {stroke: INK, lineWidth: 1};
    if (ax === 0) {
      const a = api.coord([v, yMin]), b = api.coord([v, yMax]);
      return {type: 'group', children: [
        {type: 'line', shape: {x1: a[0], y1: a[1], x2: a[0], y2: a[1] - L}, style: st},
        {type: 'line', shape: {x1: b[0], y1: b[1], x2: b[0], y2: b[1] + L}, style: st}]};
    }
    const a = api.coord([xMin, v]), b = api.coord([xMax, v]);
    return {type: 'group', children: [
      {type: 'line', shape: {x1: a[0], y1: a[1], x2: a[0] + L, y2: a[1]}, style: st},
      {type: 'line', shape: {x1: b[0], y1: b[1], x2: b[0] - L, y2: b[1]}, style: st}]};
  }}]
});
</script></body></html>
